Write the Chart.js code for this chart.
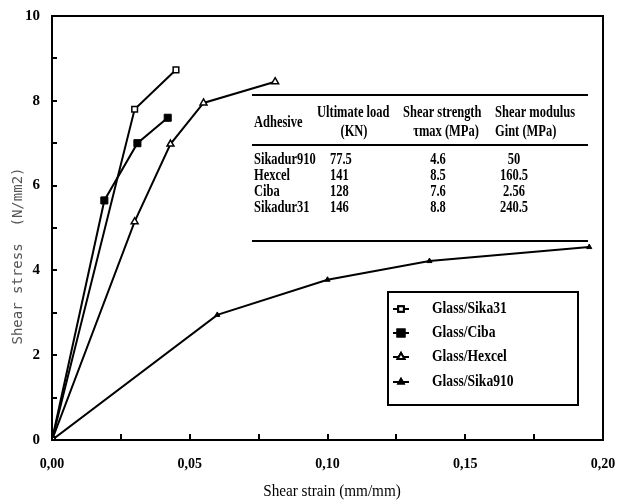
<!DOCTYPE html>
<html>
<head>
<meta charset="utf-8">
<script src="https://cdn.jsdelivr.net/npm/chart.js@4"></script>
<style>
body { margin: 0; background: #fff; }
#wrap { width: 617px; height: 504px; }
</style>
</head>
<body>
<div id="wrap"><canvas id="grafico" width="617" height="504"></canvas></div>
<script>
// valores
var sika31X = [0, 0.030, 0.045];
var sika31Y = [0, 7.8, 8.73];
var cibaX = [0, 0.019, 0.031, 0.042];
var cibaY = [0, 5.65, 7.0, 7.6];
var hexcelX = [0, 0.030, 0.043, 0.055, 0.081];
var hexcelY = [0, 5.15, 6.98, 7.95, 8.45];
var sika910X = [0, 0.060, 0.100, 0.137, 0.195];
var sika910Y = [0, 2.95, 3.78, 4.22, 4.55];

var legendas = ['Glass/Sika31', 'Glass/Ciba', 'Glass/Hexcel', 'Glass/Sika910'];

var tabelaCab = [['Adhesive', ''], ['Ultimate load', '(KN)'], ['Shear strength', '\u03C4max (MPa)'], ['Shear modulus', 'Gint (MPa)']];
var adesivos = ['Sikadur910', 'Hexcel', 'Ciba', 'Sikadur31'];
var cargaUltima = ['77.5', '141', '128', '146'];
var resistencia = ['4.6', '8.5', '7.6', '8.8'];
var modulo = ['50', '160.5', '2.56', '240.5'];

function pontos(xs, ys) {
    return xs.map((x, i) => ({ x: x, y: ys[i] }));
}

var fonteSerif = '"Liberation Serif", "DejaVu Serif", serif';

// texto estreito, como na figura original
function textoEstreito(ctx, txt, x, y, alinhamento, escala) {
    ctx.save();
    ctx.translate(x, y);
    ctx.scale(escala, 1);
    ctx.textAlign = alinhamento;
    ctx.fillText(txt, 0, 0);
    ctx.restore();
}

var desenhos = {
    id: 'desenhos',
    afterDraw(chart) {
        var ctx = chart.ctx;
        var a = chart.chartArea;
        var sx = chart.scales.x;
        var sy = chart.scales.y;
        ctx.save();
        ctx.strokeStyle = '#000';
        ctx.fillStyle = '#000';
        // moldura
        ctx.lineWidth = 2;
        ctx.strokeRect(a.left, a.top, a.right - a.left, a.bottom - a.top);
        // marcas para dentro
        for (var v = 0; v <= 0.2001; v += 0.025) {
            var px = Math.round(sx.getPixelForValue(v));
            ctx.beginPath(); ctx.moveTo(px, a.bottom); ctx.lineTo(px, a.bottom - 6); ctx.stroke();
        }
        for (var w = 0; w <= 10; w++) {
            var py = Math.round(sy.getPixelForValue(w));
            ctx.beginPath(); ctx.moveTo(a.left, py); ctx.lineTo(a.left + 5, py); ctx.stroke();
        }

        // titulos dos eixos
        ctx.font = '14px "DejaVu Sans Mono", monospace';
        ctx.fillStyle = '#555';
        ctx.save();
        ctx.translate(18, 256);
        ctx.rotate(-Math.PI / 2);
        ctx.textAlign = 'center';
        ctx.textBaseline = 'middle';
        ctx.fillText('Shear stress  (N/mm2)', 0, 0);
        ctx.restore();
        ctx.fillStyle = '#000';
        ctx.font = '16px ' + fonteSerif;
        ctx.textBaseline = 'middle';
        textoEstreito(ctx, 'Shear strain (mm/mm)', 332, 492, 'center', 0.95);

        // tabela
        ctx.lineWidth = 2;
        [95, 145, 241].forEach(function (yy) {
            ctx.beginPath(); ctx.moveTo(252, yy); ctx.lineTo(588, yy); ctx.stroke();
        });
        ctx.font = 'bold 16px ' + fonteSerif;
        var k = 0.78;
        textoEstreito(ctx, tabelaCab[0][0], 254, 123, 'left', k);
        textoEstreito(ctx, tabelaCab[1][0], 317, 113, 'left', k);
        textoEstreito(ctx, tabelaCab[1][1], 354, 132, 'center', k);
        textoEstreito(ctx, tabelaCab[2][0], 403, 113, 'left', k);
        textoEstreito(ctx, tabelaCab[2][1], 446, 132, 'center', k);
        textoEstreito(ctx, tabelaCab[3][0], 495, 113, 'left', k);
        textoEstreito(ctx, tabelaCab[3][1], 495, 132, 'left', k);
        var linhasY = [160, 176, 192, 208];
        adesivos.forEach(function (nome, i) {
            textoEstreito(ctx, nome, 254, linhasY[i], 'left', k);
            textoEstreito(ctx, cargaUltima[i], 330, linhasY[i], 'left', k);
            textoEstreito(ctx, resistencia[i], 438, linhasY[i], 'center', k);
            textoEstreito(ctx, modulo[i], 514, linhasY[i], 'center', k);
        });

        // legenda
        ctx.lineWidth = 2;
        ctx.strokeRect(388, 292, 190, 113);
        ctx.font = 'bold 17px ' + fonteSerif;
        var ly = [309, 333, 357, 382];
        chart.data.datasets.forEach(function (ds, i) {
            ctx.strokeStyle = '#000';
            ctx.lineWidth = 2;
            ctx.beginPath(); ctx.moveTo(393, ly[i]); ctx.lineTo(409, ly[i]); ctx.stroke();
            Chart.helpers.drawPoint(ctx, {
                pointStyle: ds.pointStyle,
                radius: ds.pointRadius,
                borderWidth: ds.pointBorderWidth
            }, 401, ly[i]);
            ctx.fillStyle = ds.pointBackgroundColor;
            ctx.strokeStyle = '#000';
            ctx.fill();
            ctx.stroke();
            ctx.fillStyle = '#000';
            textoEstreito(ctx, legendas[i], 432, ly[i], 'left', 0.8);
        });
        ctx.restore();
    }
};

var grafico = new Chart(document.getElementById('grafico').getContext('2d'), {
    type: 'scatter',
    data: {
        datasets: [{
            label: legendas[0],
            data: pontos(sika31X, sika31Y),
            pointStyle: 'rect',
            pointRadius: 4,
            pointBorderWidth: 1.5,
            pointBackgroundColor: '#fff'
        }, {
            label: legendas[1],
            data: pontos(cibaX, cibaY),
            pointStyle: 'rect',
            pointRadius: 5,
            pointBorderWidth: 1,
            pointBackgroundColor: '#000'
        }, {
            label: legendas[2],
            data: pontos(hexcelX, hexcelY),
            pointStyle: 'triangle',
            pointRadius: 4,
            pointBorderWidth: 1.5,
            pointBackgroundColor: '#fff'
        }, {
            label: legendas[3],
            data: pontos(sika910X, sika910Y),
            pointStyle: 'triangle',
            pointRadius: 3,
            pointBorderWidth: 1,
            pointBackgroundColor: '#000'
        }].map(function (ds) {
            ds.showLine = true;
            ds.borderColor = '#000';
            ds.borderWidth = 2;
            ds.pointBorderColor = '#000';
            ds.tension = 0;
            return ds;
        })
    },
    options: {
        responsive: false,
        animation: false,
        layout: { padding: { top: 16, right: 14, left: 0, bottom: 0 } },
        plugins: { legend: { display: false }, tooltip: { enabled: false } },
        scales: {
            x: {
                type: 'linear',
                min: 0,
                max: 0.2,
                grid: { display: false, drawTicks: false },
                border: { display: false },
                afterFit: function (s) { s.height = 64; s.paddingLeft = 0; s.paddingRight = 0; },
                ticks: {
                    stepSize: 0.05,
                    padding: 16,
                    color: '#000',
                    font: { family: fonteSerif, size: 14, weight: 'bold' },
                    callback: function (v) { return v.toFixed(2).replace('.', ','); }
                }
            },
            y: {
                min: 0,
                max: 10,
                grid: { display: false, drawTicks: false },
                border: { display: false },
                afterFit: function (s) { s.width = 52; s.paddingTop = 0; s.paddingBottom = 0; },
                ticks: {
                    stepSize: 2,
                    padding: 12,
                    color: '#000',
                    font: { family: fonteSerif, size: 15, weight: 'bold' }
                }
            }
        }
    },
    plugins: [desenhos]
});
</script>
</body>
</html>
